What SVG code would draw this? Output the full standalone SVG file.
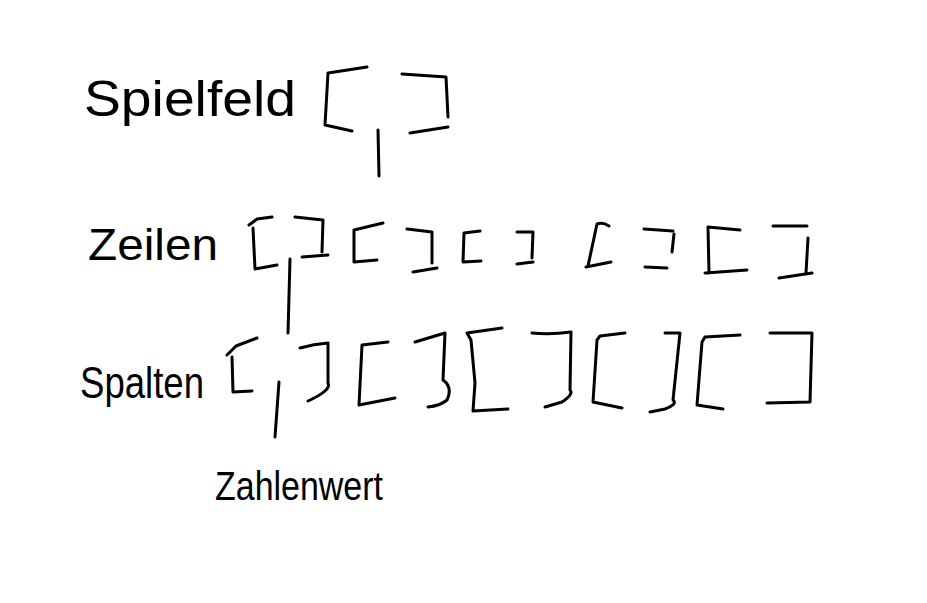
<svg xmlns="http://www.w3.org/2000/svg" width="927" height="603" viewBox="0 0 927 603">
<style>
.s{fill:none;stroke:#000;stroke-width:3;stroke-linecap:round;stroke-linejoin:round}
.t{font-family:"Liberation Sans",Arial,sans-serif;fill:#000}
</style>
<rect width="927" height="603" fill="#fff"/>
<g id="spielfeld">
<text class="t" x="84" y="116" font-size="50" textLength="212" lengthAdjust="spacingAndGlyphs">Spielfeld</text>
<path class="s" d="M367,67 L328,73 L325,125 L352,131"/>
<path class="s" d="M402,74 L446,77 L448,117 M448,127 L410,133"/>
</g>
<g id="zeilen">
<text class="t" x="88" y="260" font-size="44" textLength="130" lengthAdjust="spacingAndGlyphs">Zeilen</text>
<path class="s" d="M272,217 L257,219 L249,225 M253,228 L255,269 L277,265"/>
<path class="s" d="M295,217 L323,220 L322,252 M328,255 L302,257"/>
<path class="s" d="M383,223 L354,230 L354,262 L377,260"/>
<path class="s" d="M407,229 L432,232 L432,263 M437,268 L413,272"/>
<path class="s" d="M480,231 L464,233 L463,262 L481,261"/>
<path class="s" d="M517,232 L533,232 L532,258 M533,262 L517,264"/>
<path class="s" d="M609,226 Q603,222 597,224 L588,266 M586,267 L611,262"/>
<path class="s" d="M644,229 L673,231 M674,234 L672,252 M645,267 L667,268"/>
<path class="s" d="M740,230 L708,227 L709,273 M705,273 L747,270"/>
<path class="s" d="M773,226 L807,226 M808,238 L806,273 M779,278 L812,273"/>
</g>
<g id="spalten">
<text class="t" x="80" y="398" font-size="44" textLength="124" lengthAdjust="spacingAndGlyphs">Spalten</text>
<path class="s" d="M257,338 L236,346 L227,355 M232,357 L233,392 L252,391"/>
<path class="s" d="M300,348 Q314,344 328,343 L328,383 Q332,390 308,401"/>
<path class="s" d="M388,342 L362,345 L359,405 L395,398"/>
<path class="s" d="M415,342 L445,333 L443,380 Q453,387 447,400 Q440,406 428,407"/>
<path class="s" d="M502,328 L467,333 L471,340 L475,383 L473,411 L508,409"/>
<path class="s" d="M532,333 Q550,335 571,332 L570,390 Q574,394 562,402 L545,407"/>
<path class="s" d="M625,333 L600,336 L597,340 L593,402 L622,408"/>
<path class="s" d="M665,333 L680,333 L673,400 Q678,404 665,409 L650,412"/>
<path class="s" d="M740,335 L705,337 L702,342 L697,405 L723,409"/>
<path class="s" d="M770,333 L812,333 L810,402 L767,403"/>
</g>
<g id="zahlenwert">
<text class="t" x="215" y="500" font-size="40" textLength="168" lengthAdjust="spacingAndGlyphs">Zahlenwert</text>
</g>
<g id="connectors">
<path class="s" d="M378,130 L379,176"/>
<path class="s" d="M290,259 L288,333"/>
<path class="s" d="M279,382 L275,437"/>
</g>
</svg>
